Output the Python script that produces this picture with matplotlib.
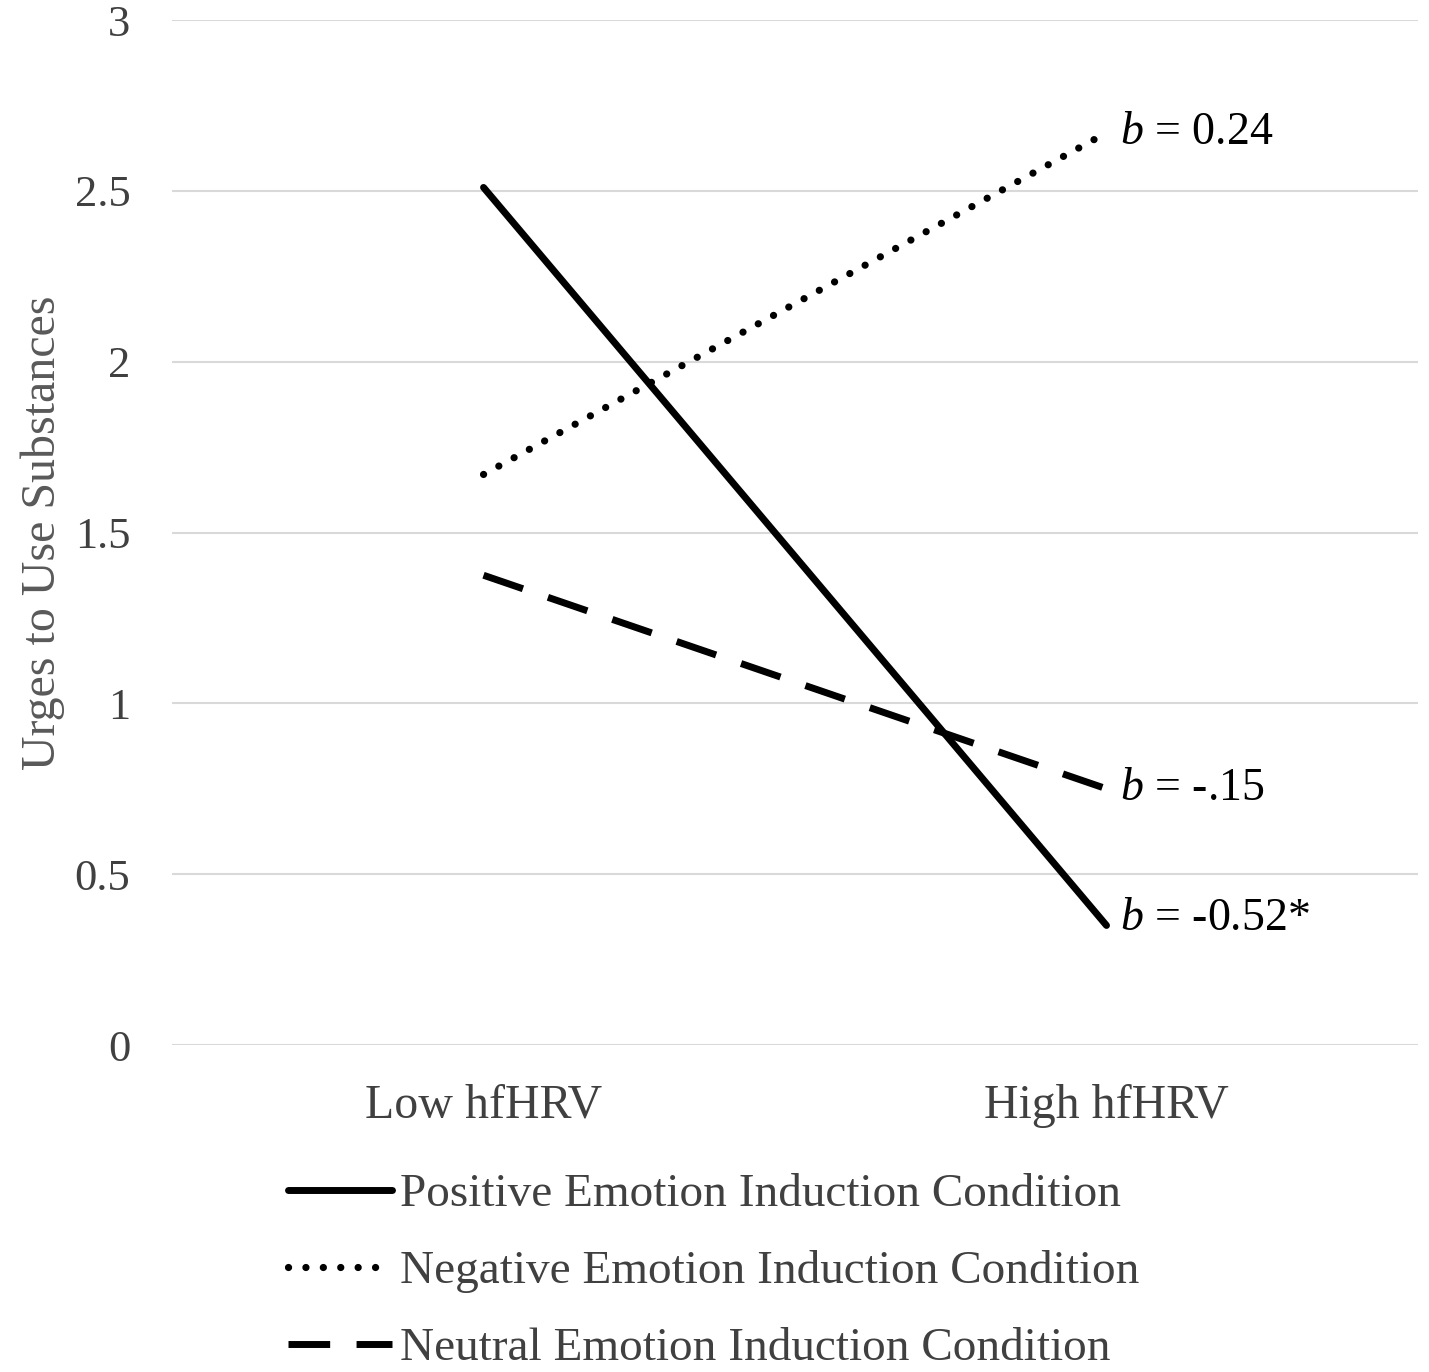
import matplotlib
matplotlib.use("Agg")
import matplotlib.pyplot as plt

categories = ["Low hfHRV", "High hfHRV"]
positive = [2.51, 0.35]
negative = [1.67, 2.67]
neutral = [1.375, 0.75]
series_labels = ["Positive Emotion Induction Condition",
                 "Negative Emotion Induction Condition",
                 "Neutral Emotion Induction Condition"]
slope_labels = [r"$\it{b}$ = -0.52*", r"$\it{b}$ = 0.24", r"$\it{b}$ = -.15"]
yticks = [0, 0.5, 1, 1.5, 2, 2.5, 3]
ytick_labels = ["0", "0.5", "1", "1.5", "2", "2.5", "3"]

plt.rcParams['font.family'] = ['Liberation Serif', 'DejaVu Serif']
plt.rcParams['mathtext.fontset'] = 'custom'
plt.rcParams['mathtext.it'] = 'Liberation Serif:italic'
plt.rcParams['mathtext.rm'] = 'Liberation Serif'

fig = plt.figure(figsize=(14.29, 13.72), dpi=100)
ax = fig.add_axes([0.1204, 0.2383, 0.8719, 0.7471])

x = list(range(len(categories)))
lw = 5
l1, = ax.plot(x, positive, color='black', lw=lw, solid_capstyle='round', label=series_labels[0])
l2, = ax.plot(x, negative, color='black', lw=5.2, dash_capstyle='round',
              dashes=(0.01, 2.4), label=series_labels[1])
l3, = ax.plot(x, neutral, color='black', lw=lw, dash_capstyle='butt',
              dashes=(6, 3.8), label=series_labels[2])

for vals, lab in zip([positive, negative, neutral], slope_labels):
    ax.annotate(lab, xy=(1, vals[1]), xytext=(10, 5 if vals is positive else 0),
                textcoords='offset points', va='center', ha='left',
                fontsize=33, color='black')

ax.set_xlim(-0.5, 1.5)
ax.set_ylim(0, 3)
ax.set_yticks(yticks)
ax.set_yticklabels(ytick_labels)
ax.set_xticks(x)
ax.set_xticklabels(categories)
ax.tick_params(axis='y', length=0, pad=30, labelsize=32, labelcolor='#404040')
ax.tick_params(axis='x', length=0, pad=28, labelsize=34.5, labelcolor='#404040')
ax.grid(axis='y', color='#d9d9d9', lw=1.5)
ax.set_axisbelow(True)
for s in ax.spines.values():
    s.set_visible(False)

ax.set_ylabel("Urges to Use Substances", fontsize=34.5, color='#595959')
ax.yaxis.set_label_coords(-0.086, 0.5)

fig.legend(handles=[l1, l2, l3], loc='upper left', bbox_to_anchor=(0.2015, 0.145),
           frameon=False, fontsize=34, handlelength=2.2, handletextpad=0.18,
           labelspacing=0.72, borderpad=0, borderaxespad=0, labelcolor='#404040')

fig.savefig("out.png", dpi=100)
